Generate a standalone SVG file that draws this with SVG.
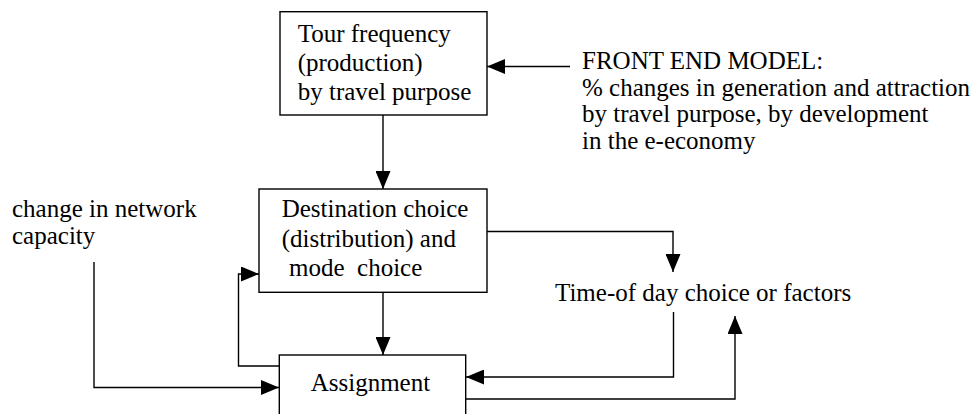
<svg xmlns="http://www.w3.org/2000/svg" width="979" height="414" viewBox="0 0 979 414">
<style>
text{font-family:"Liberation Serif","Times New Roman",serif;font-size:25px;fill:#000;white-space:pre}
.box{fill:#fff;stroke:#000;stroke-width:1.4}
.ln{fill:none;stroke:#000;stroke-width:1.4}
</style>
<defs>
<marker id="ah" markerUnits="userSpaceOnUse" markerWidth="18" markerHeight="15" refX="18" refY="7.5" orient="auto" viewBox="0 0 18 15">
<path d="M0,0 L18,7.5 L0,15 z" fill="#000"/>
</marker>
</defs>
<rect width="979" height="414" fill="#fff"/>
<g id="connectors">
<path class="ln" d="M570,66.5 H487" marker-end="url(#ah)"/>
<path class="ln" d="M383,115 V189" marker-end="url(#ah)"/>
<path class="ln" d="M383,292 V355" marker-end="url(#ah)"/>
<path class="ln" d="M487,231.5 H673 V272" marker-end="url(#ah)"/>
<path class="ln" d="M279,366 H238.5 V274 H259" marker-end="url(#ah)"/>
<path class="ln" d="M94,262 V387.5 H279" marker-end="url(#ah)"/>
<path class="ln" d="M673.5,312 V377 H466" marker-end="url(#ah)"/>
<path class="ln" d="M466,399 H735 V316" marker-end="url(#ah)"/>
</g>
<g id="tour-frequency">
<rect class="box" x="280" y="11.7" width="207" height="103.3"/>
<text x="297.7" y="42">Tour frequency</text>
<text x="297.7" y="71">(production)</text>
<text x="297.7" y="100">by travel purpose</text>
</g>
<g id="destination-choice">
<rect class="box" x="259" y="189" width="228" height="103.3"/>
<text x="281.7" y="217">Destination choice</text>
<text x="281.7" y="246.5">(distribution) and</text>
<text x="289" y="276">mode  choice</text>
</g>
<g id="assignment">
<rect class="box" x="279.3" y="355" width="186.4" height="70"/>
<text x="310.7" y="391">Assignment</text>
</g>
<g id="front-end-model">
<text x="582" y="69">FRONT END MODEL:</text>
<text x="582" y="95.5">% changes in generation and attraction</text>
<text x="582" y="122">by travel purpose, by development</text>
<text x="582" y="148.5">in the e-economy</text>
</g>
<g id="network-capacity">
<text x="12" y="217">change in network</text>
<text x="12" y="244">capacity</text>
</g>
<g id="time-of-day">
<text x="555" y="301">Time-of day choice or factors</text>
</g>
</svg>
